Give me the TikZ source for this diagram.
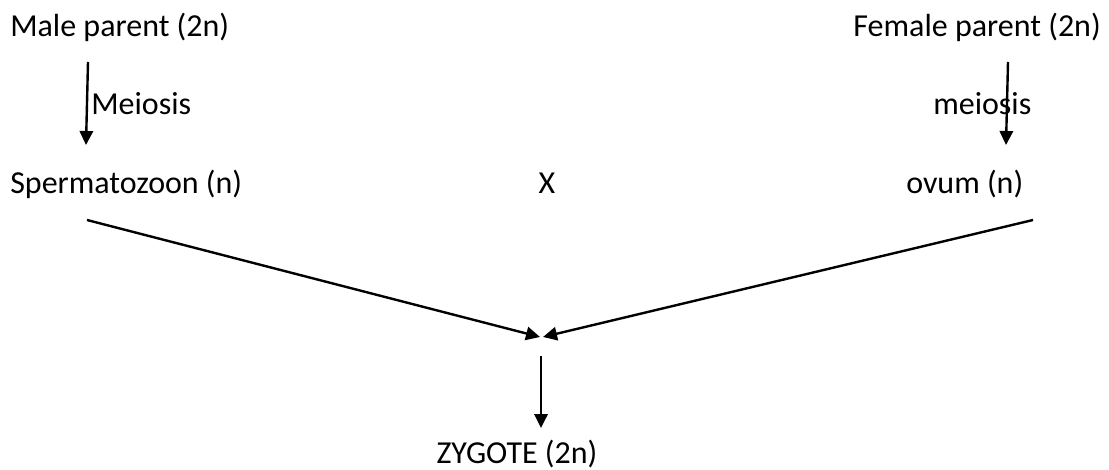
\documentclass[tikz,border=0pt]{standalone}
\usepackage{fontspec}
\setmainfont{Carlito}
\usetikzlibrary{arrows.meta}

\begin{document}
\begin{tikzpicture}[x=0.75pt,y=-0.75pt,
    txt/.style={inner sep=0pt,font=\fontsize{24}{29}\selectfont},
    link/.style={line width=1.8pt,-{Triangle[length=10.5pt,width=10pt]}}]

  \useasboundingbox (0,0) rectangle (1109,470);

  % parents
  \node[txt,anchor=base west] (male) at (10,37) {Male parent (2n)};
  \node[txt,anchor=base east] (female) at (1101,37) {Female parent (2n)};

  % meiosis labels
  \node[txt,anchor=base west] (meiosisL) at (91,115) {Meiosis};
  \node[txt,anchor=base west] (meiosisR) at (933,115) {meiosis};

  % gametes
  \node[txt,anchor=base west] (sperm) at (10,194) {Spermatozoon (n)};
  \node[txt,anchor=base] (cross) at (547,194) {X};
  \node[txt,anchor=base west] (ovum) at (906,194) {ovum (n)};

  % zygote
  \node[txt,anchor=base] (zygote) at (517,463) {ZYGOTE (2n)};

  % end points of the arrows
  \coordinate (maleA) at (88,62);
  \coordinate (maleB) at (86,145);
  \coordinate (femaleA) at (1008,62);
  \coordinate (femaleB) at (1006,145);
  \coordinate (spermA) at (87,220);
  \coordinate (ovumA) at (1033,220);
  \coordinate (meetL) at (540,337);
  \coordinate (meetR) at (543,337);
  \coordinate (zygA) at (541,356);
  \coordinate (zygB) at (541,428);

  % arrows
  \draw[link] (maleA) -- (maleB);
  \draw[link] (femaleA) -- (femaleB);
  \draw[link] (spermA) -- (meetL);
  \draw[link] (ovumA) -- (meetR);
  \draw[link] (zygA) -- (zygB);
\end{tikzpicture}
\end{document}
